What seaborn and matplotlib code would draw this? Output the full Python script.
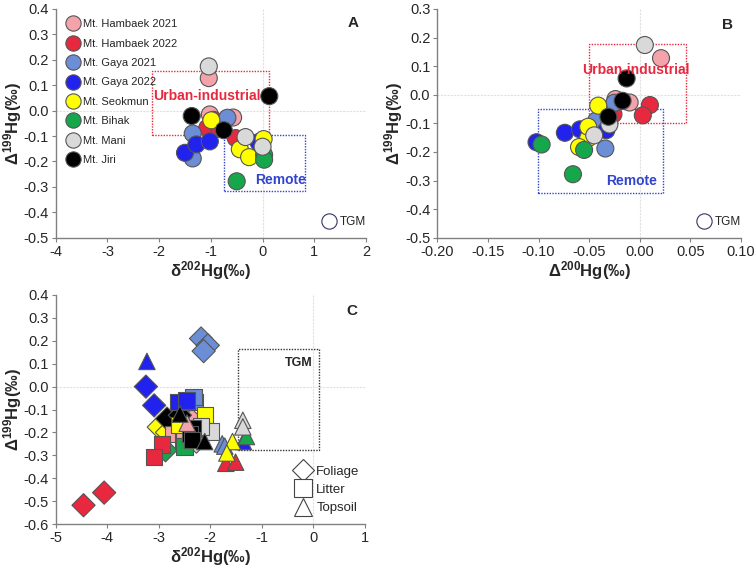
import matplotlib
matplotlib.use("Agg")
import matplotlib.pyplot as plt
import seaborn as sns
import pandas as pd
from matplotlib.lines import Line2D
from matplotlib.patches import Rectangle

sns.set_style("white")
plt.rcParams['font.family'] = ['Liberation Sans', 'DejaVu Sans']
plt.rcParams['mathtext.fontset'] = 'custom'
plt.rcParams['mathtext.rm'] = 'Liberation Sans'
plt.rcParams['mathtext.bf'] = 'Liberation Sans:bold'

sites = ["Mt. Hambaek 2021", "Mt. Hambaek 2022", "Mt. Gaya 2021", "Mt. Gaya 2022",
         "Mt. Seokmun", "Mt. Bihak", "Mt. Mani", "Mt. Jiri"]
colors = ["#F4A3AA", "#E8283E", "#6C8ED6", "#2222EE", "#FFFF00", "#16A64C", "#D9D9D9", "#000000"]

# Panels A & B: per-site d202, D200, D199
d202 = {
    "Mt. Hambaek 2021": [-1.04, -1.02, -0.57],
    "Mt. Hambaek 2022": [-1.07, -0.95, -0.83, -0.52],
    "Mt. Gaya 2021": [-1.35, -1.35, -0.68],
    "Mt. Gaya 2022": [-1.50, -1.28, -1.02, -0.08],
    "Mt. Seokmun": [-0.99, -0.44, -0.26, 0.02],
    "Mt. Bihak": [-0.50, 0.03, 0.03],
    "Mt. Mani": [-1.04, -0.33, 0.00],
    "Mt. Jiri": [-1.37, 0.13, -0.75],
}
D200 = {
    "Mt. Hambaek 2021": [0.021, -0.024, -0.010],
    "Mt. Hambaek 2022": [-0.026, 0.010, 0.003, -0.043],
    "Mt. Gaya 2021": [-0.043, -0.034, -0.025],
    "Mt. Gaya 2022": [-0.102, -0.074, -0.059, -0.033],
    "Mt. Seokmun": [-0.041, -0.051, -0.060, -0.051],
    "Mt. Bihak": [-0.066, -0.097, -0.055],
    "Mt. Mani": [0.005, -0.030, -0.045],
    "Mt. Jiri": [-0.017, -0.013, -0.031],
}
D199 = {
    "Mt. Hambaek 2021": [0.128, -0.015, -0.027],
    "Mt. Hambaek 2022": [-0.068, -0.036, -0.072, -0.108],
    "Mt. Gaya 2021": [-0.090, -0.188, -0.028],
    "Mt. Gaya 2022": [-0.166, -0.133, -0.121, -0.124],
    "Mt. Seokmun": [-0.038, -0.152, -0.183, -0.112],
    "Mt. Bihak": [-0.278, -0.174, -0.193],
    "Mt. Mani": [0.174, -0.104, -0.142],
    "Mt. Jiri": [-0.021, 0.057, -0.077],
}

# Panel C: (site, type, d202, D199)
c_site = (["Mt. Hambaek 2021"] + ["Mt. Hambaek 2022"] * 2 + ["Mt. Gaya 2021"] * 3 + ["Mt. Gaya 2022"] * 2
          + ["Mt. Seokmun"] * 2 + ["Mt. Bihak"] + ["Mt. Mani"] + ["Mt. Jiri"] * 2
          + ["Mt. Hambaek 2021"] * 3 + ["Mt. Hambaek 2022"] * 2 + ["Mt. Gaya 2021"] * 2 + ["Mt. Gaya 2022"] * 2
          + ["Mt. Seokmun"] * 2 + ["Mt. Bihak"] + ["Mt. Mani"] * 2 + ["Mt. Jiri"] * 3
          + ["Mt. Hambaek 2021"] + ["Mt. Hambaek 2022"] * 2 + ["Mt. Gaya 2021"] * 2 + ["Mt. Gaya 2022"] * 2
          + ["Mt. Seokmun"] * 2 + ["Mt. Bihak"] + ["Mt. Mani"] * 2 + ["Mt. Jiri"] * 2)
c_type = ["Foliage"] * 14 + ["Litter"] * 17 + ["Topsoil"] * 14
c_d202 = [-2.36, -4.46, -4.06, -2.18, -2.05, -2.13, -3.25, -3.09, -3.00, -2.84, -2.87, -2.27, -2.84, -2.59,
          -2.72, -2.53, -2.50, -2.94, -3.09, -2.30, -2.33, -2.62, -2.46, -2.10, -2.61, -2.50, -2.00, -2.18,
          -2.34, -2.39, -2.36,
          -2.45, -1.70, -1.51, -1.77, -1.72, -3.23, -1.36, -1.57, -1.68, -1.30, -1.37, -1.37, -2.11, -2.59]
c_D199 = [-0.147, -0.518, -0.463, 0.210, 0.180, 0.155, 0.000, -0.082, -0.177, -0.200, -0.278, -0.240, -0.140, -0.125,
          -0.206, -0.235, -0.190, -0.252, -0.307, -0.067, -0.045, -0.067, -0.060, -0.125, -0.168, -0.262, -0.197, -0.175,
          -0.183, -0.207, -0.233,
          -0.160, -0.335, -0.330, -0.250, -0.260, 0.110, -0.240, -0.240, -0.290, -0.218, -0.147, -0.176, -0.240, -0.120]

rows = []
for s in sites:
    for a, b, c in zip(d202[s], D200[s], D199[s]):
        rows.append((s, a, b, c))
dfAB = pd.DataFrame(rows, columns=["site", "d202", "D200", "D199"])
dfC = pd.DataFrame({"site": c_site, "type": c_type, "d202": c_d202, "D199": c_D199})

pal = dict(zip(sites, colors))
W, H = 756, 569
fig = plt.figure(figsize=(W / 100, H / 100), dpi=100)

def rect(l, r, t, b):
    return [l / W, (H - b) / H, (r - l) / W, (b - t) / H]

axA = fig.add_axes(rect(55.7, 366, 9, 237.7))
axB = fig.add_axes(rect(437.3, 741, 9, 237.7))
axC = fig.add_axes(rect(55.7, 365, 295, 524))

def style(ax, xlim, ylim, xticks, yticks, xfmt, yfmt):
    ax.set_xlim(*xlim)
    ax.set_ylim(*ylim)
    ax.set_xticks(xticks)
    ax.set_yticks(yticks)
    ax.set_xticklabels([xfmt.format(v) for v in xticks])
    ax.set_yticklabels([yfmt.format(v) for v in yticks])
    for sp in ["top", "right"]:
        ax.spines[sp].set_visible(False)
    for sp in ["left", "bottom"]:
        ax.spines[sp].set_color("#808080")
        ax.spines[sp].set_linewidth(1.0)
    ax.tick_params(axis="both", direction="out", length=3, width=0.8, color="#808080",
                   labelsize=10.5, pad=2, bottom=True, left=True)
    ax.axhline(0, color="#E0E0E0", lw=0.8, ls=(0, (2, 1)), zorder=0)
    ax.axvline(0, color="#E0E0E0", lw=0.8, ls=(0, (2, 1)), zorder=0)

lab_kw = dict(fontsize=12, fontweight="bold")

# Panel A
sns.scatterplot(data=dfAB, x="d202", y="D199", hue="site", palette=pal, hue_order=sites,
                s=150, edgecolor="#555555", linewidth=0.8, legend=False, ax=axA, zorder=3)
style(axA, (-4, 2), (-0.5, 0.4), [-4, -3, -2, -1, 0, 1, 2],
      [0.4, 0.3, 0.2, 0.1, 0.0, -0.1, -0.2, -0.3, -0.4, -0.5], "{:g}", "{:.1f}")
axA.add_patch(Rectangle((-2.13, -0.096), 2.26, 0.253, fill=False, ec="#E8283E", lw=1.0, ls=(0, (1, 1)), zorder=2))
axA.add_patch(Rectangle((-0.75, -0.317), 1.58, 0.221, fill=False, ec="#3344CC", lw=1.0, ls=(0, (1, 1)), zorder=2))
axA.text(-1.08, 0.058, "Urban-industrial", color="#E8283E", fontsize=10, fontweight="bold", ha="center", va="center", zorder=4)
axA.text(0.35, -0.272, "Remote", color="#3344CC", fontsize=10, fontweight="bold", ha="center", va="center", zorder=4)
axA.text(1.75, 0.343, "A", fontsize=11, fontweight="bold", ha="center", va="center")
axA.set_xlabel(r"$\mathbf{\delta^{202}Hg(‰)}$", labelpad=0, **lab_kw)
axA.set_ylabel(r"$\mathbf{\Delta^{199}Hg(‰)}$", labelpad=0, **lab_kw)
handles = [Line2D([], [], marker="o", ls="", markersize=11, markerfacecolor=c, markeredgecolor="#555555",
                  markeredgewidth=0.8, label=s) for s, c in zip(sites, colors)]
legA = axA.legend(handles=handles, loc="upper left", frameon=False, fontsize=8, handletextpad=0.3,
                  labelspacing=0.85, borderaxespad=0.0, handlelength=1.2, bbox_to_anchor=(0.02, 0.975))
axA.add_artist(legA)
tgm = [Line2D([], [], marker="o", ls="", markersize=11, markerfacecolor="white", markeredgecolor="#333366",
              markeredgewidth=0.8, label="TGM")]
axA.legend(handles=tgm, loc="lower right", frameon=False, fontsize=8.5, handletextpad=0.3,
           borderaxespad=0.4, handlelength=1.2, bbox_to_anchor=(1.03, 0.0))

# Panel B
sns.scatterplot(data=dfAB, x="D200", y="D199", hue="site", palette=pal, hue_order=sites,
                s=150, edgecolor="#555555", linewidth=0.8, legend=False, ax=axB, zorder=3)
style(axB, (-0.2, 0.1), (-0.5, 0.3), [-0.2, -0.15, -0.1, -0.05, 0.0, 0.05, 0.1],
      [0.3, 0.2, 0.1, 0.0, -0.1, -0.2, -0.3, -0.4, -0.5], "{:.2f}", "{:.1f}")
axB.add_patch(Rectangle((-0.05, -0.098), 0.096, 0.276, fill=False, ec="#E8283E", lw=1.0, ls=(0, (1, 1)), zorder=2))
axB.add_patch(Rectangle((-0.101, -0.343), 0.124, 0.293, fill=False, ec="#3344CC", lw=1.0, ls=(0, (1, 1)), zorder=2))
axB.text(-0.004, 0.088, "Urban-industrial", color="#E8283E", fontsize=10, fontweight="bold", ha="center", va="center", zorder=4)
axB.text(-0.008, -0.30, "Remote", color="#3344CC", fontsize=10, fontweight="bold", ha="center", va="center", zorder=4)
axB.text(0.087, 0.245, "B", fontsize=11, fontweight="bold", ha="center", va="center")
axB.set_xlabel(r"$\mathbf{\Delta^{200}Hg(‰)}$", labelpad=0, **lab_kw)
axB.set_ylabel(r"$\mathbf{\Delta^{199}Hg(‰)}$", labelpad=0, **lab_kw)
axB.legend(handles=tgm, loc="lower right", frameon=False, fontsize=8.5, handletextpad=0.3,
           borderaxespad=0.4, handlelength=1.2, bbox_to_anchor=(1.03, 0.0))

# Panel C
markers = {"Foliage": "D", "Litter": "s", "Topsoil": "^"}
sns.scatterplot(data=dfC, x="d202", y="D199", hue="site", palette=pal, hue_order=sites,
                style="type", markers=markers, style_order=["Foliage", "Litter", "Topsoil"],
                s=140, edgecolor="#555555", linewidth=0.8, legend=False, ax=axC, zorder=3)
style(axC, (-5, 1), (-0.6, 0.4), [-5, -4, -3, -2, -1, 0, 1],
      [0.4, 0.3, 0.2, 0.1, 0.0, -0.1, -0.2, -0.3, -0.4, -0.5, -0.6], "{:g}", "{:.1f}")
axC.add_patch(Rectangle((-1.47, -0.275), 1.57, 0.441, fill=False, ec="#333333", lw=1.0, ls=(0, (1, 1)), zorder=2))
axC.text(-0.28, 0.105, "TGM", fontsize=9, fontweight="bold", ha="center", va="center")
axC.text(0.75, 0.33, "C", fontsize=11, fontweight="bold", ha="center", va="center")
axC.set_xlabel(r"$\mathbf{\delta^{202}Hg(‰)}$", labelpad=0, **lab_kw)
axC.set_ylabel(r"$\mathbf{\Delta^{199}Hg(‰)}$", labelpad=0, **lab_kw)
hC = [Line2D([], [], marker=markers[t], ls="", markersize=ms, markerfacecolor="white", markeredgecolor="#444444",
             markeredgewidth=0.8, label=t) for t, ms in zip(["Foliage", "Litter", "Topsoil"], [11, 13, 13])]
axC.legend(handles=hC, loc="lower right", frameon=False, fontsize=9.5, handletextpad=0.3,
           labelspacing=0.45, borderaxespad=0.0, handlelength=1.4, bbox_to_anchor=(1.0, 0.02))

fig.savefig("out.png", dpi=100)
